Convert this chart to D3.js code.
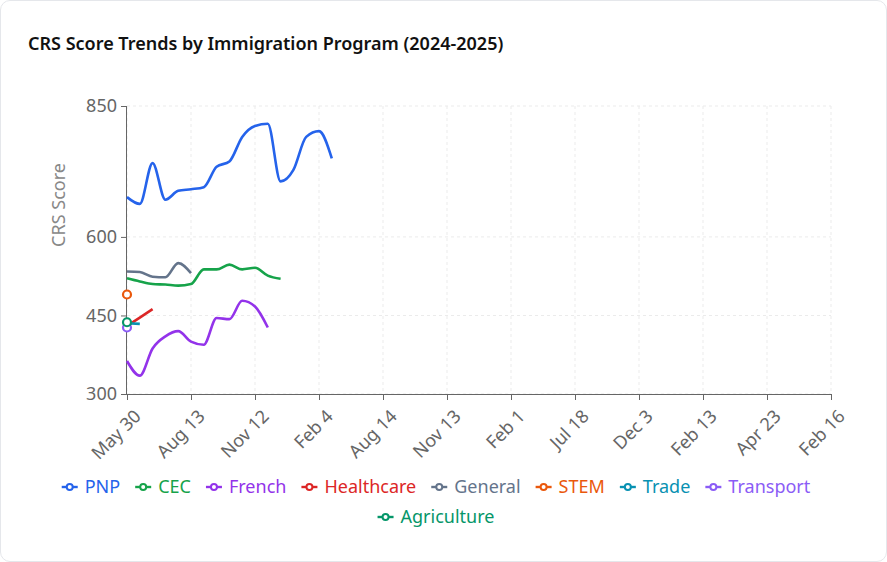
<!DOCTYPE html>
<html>
<head>
<meta charset="utf-8">
<script src="https://cdn.jsdelivr.net/npm/d3@7"></script>
<style>
  html, body { margin: 0; padding: 0; background: #fff; }
  #card { position: absolute; left: 0; top: 0; width: 885px; height: 560px; border: 1px solid #e5e7eb; border-radius: 10px; background: #fff; }
  svg { position: absolute; left: 0; top: 0; }
</style>
</head>
<body>
<div id="card"></div>
<svg id="chart" width="887" height="562"></svg>
<script>
// ---- data ----
const tickLabels = ["May 30","Aug 13","Nov 12","Feb 4","Aug 14","Nov 13","Feb 1","Jul 18","Dec 3","Feb 13","Apr 23","Feb 16"];
const yTicks = [300, 450, 600, 850];
const seriesNames = ["PNP","CEC","French","Healthcare","General","STEM","Trade","Transport","Agriculture"];
const seriesColors = ["#2563eb","#16a34a","#9333ea","#dc2626","#64748b","#ea580c","#0891b2","#8b5cf6","#059669"];
const pnp = [676, 663, 741, 671, 688, 691, 695, 734, 744, 791, 812, 816, 706, 728, 791, 802, 750];
const cec = [521, 515, 510, 509, 507, 510, 538, 538, 547, 538, 541, 526, 520];
const french = [363, 335, 387, 410, 420, 400, 394, 445, 443, 478, 467, 427];
const healthcare = [430, 446, 462];
const general = [534, 533, 524, 523, 550, 531];
const stem = [490];
const trade = [435, 434];
const transport = [427];
const agriculture = [437];
const seriesValues = [pnp, cec, french, healthcare, general, stem, trade, transport, agriculture];

// ---- layout ----
const svg = d3.select("#chart");
const font = "'Noto Sans', 'Open Sans', sans-serif";
const pL = 127, pR = 831, pT = 106, pB = 394;
const tickStep = 5;
const x = d3.scaleLinear().domain([0, (tickLabels.length - 1) * tickStep]).range([pL, pR]);
const y = d3.scaleLinear().domain([300, 850]).range([pB, pT]);

svg.append("text").attr("x", 28).attr("y", 50)
  .attr("font-family", font).attr("font-size", 18).attr("font-weight", 600)
  .attr("fill", "#111").text("CRS Score Trends by Immigration Program (2024-2025)");

// grid
const grid = svg.append("g").attr("stroke", "#ebebeb").attr("stroke-dasharray", "3 3").attr("stroke-width", 1);
yTicks.forEach(v => grid.append("line").attr("x1", pL).attr("x2", pR).attr("y1", y(v)).attr("y2", y(v)));
tickLabels.forEach((t, i) => grid.append("line").attr("x1", x(i * tickStep)).attr("x2", x(i * tickStep)).attr("y1", pT).attr("y2", pB));

// axes
const xAxis = d3.axisBottom(x).tickValues(tickLabels.map((t, i) => i * tickStep))
  .tickFormat((d, i) => tickLabels[i]).tickSize(6).tickPadding(4);
const gx = svg.append("g").attr("transform", `translate(0,${pB})`).call(xAxis);
gx.selectAll("path,line").attr("stroke", "#666");
gx.selectAll("text").attr("font-family", font).attr("font-size", 18).attr("fill", "#666")
  .attr("text-anchor", "end").attr("dy", "0.35em")
  .attr("transform", "translate(3,12) rotate(-45)");
gx.select(".domain").attr("d", `M${pL},0.5H${pR}`);

const yAxis = d3.axisLeft(y).tickValues(yTicks).tickSize(6).tickPadding(4);
const gy = svg.append("g").attr("transform", `translate(${pL},0)`).call(yAxis);
gy.selectAll("path,line").attr("stroke", "#666");
gy.select(".domain").attr("d", `M-0.5,${pT}V${pB}`);
gy.selectAll("text").attr("font-family", font).attr("font-size", 18).attr("fill", "#666");

svg.append("text").attr("transform", `translate(65,205) rotate(-90)`)
  .attr("text-anchor", "middle").attr("font-family", font).attr("font-size", 18)
  .attr("fill", "#888").text("CRS Score");

// lines
const line = d3.line().x((d, i) => x(i)).y(d => y(d)).curve(d3.curveMonotoneX);
seriesValues.forEach((vals, k) => {
  if (vals.length > 1) {
    svg.append("path").attr("d", line(vals)).attr("fill", "none")
      .attr("stroke", seriesColors[k]).attr("stroke-width", 2.6);
  } else {
    svg.append("circle").attr("cx", x(0)).attr("cy", y(vals[0])).attr("r", 4)
      .attr("fill", "#fff").attr("stroke", seriesColors[k]).attr("stroke-width", 2.2);
  }
});

// legend
const legendRows = [seriesNames.slice(0, 8), seriesNames.slice(8)];
const legendY = [487, 517];
const lg = svg.append("g");
legendRows.forEach((row, r) => {
  const items = row.map(name => {
    const k = seriesNames.indexOf(name);
    const g = lg.append("g");
    g.append("line").attr("x1", 0).attr("x2", 16).attr("y1", 0).attr("y2", 0)
      .attr("stroke", seriesColors[k]).attr("stroke-width", 2.4);
    g.append("circle").attr("cx", 8).attr("cy", 0).attr("r", 3).attr("fill", "#fff")
      .attr("stroke", seriesColors[k]).attr("stroke-width", 2);
    const t = g.append("text").attr("x", 23).attr("y", 0).attr("dy", "0.35em")
      .attr("font-family", font).attr("font-size", 18).attr("fill", seriesColors[k]).text(name);
    const w = 23 + t.node().getComputedTextLength();
    return { g, w };
  });
  const gap = 15;
  const total = d3.sum(items, d => d.w) + gap * (items.length - 1);
  let cx = 436 - total / 2;
  items.forEach(it => { it.g.attr("transform", `translate(${cx},${legendY[r]})`); cx += it.w + gap; });
});
</script>
</body>
</html>
